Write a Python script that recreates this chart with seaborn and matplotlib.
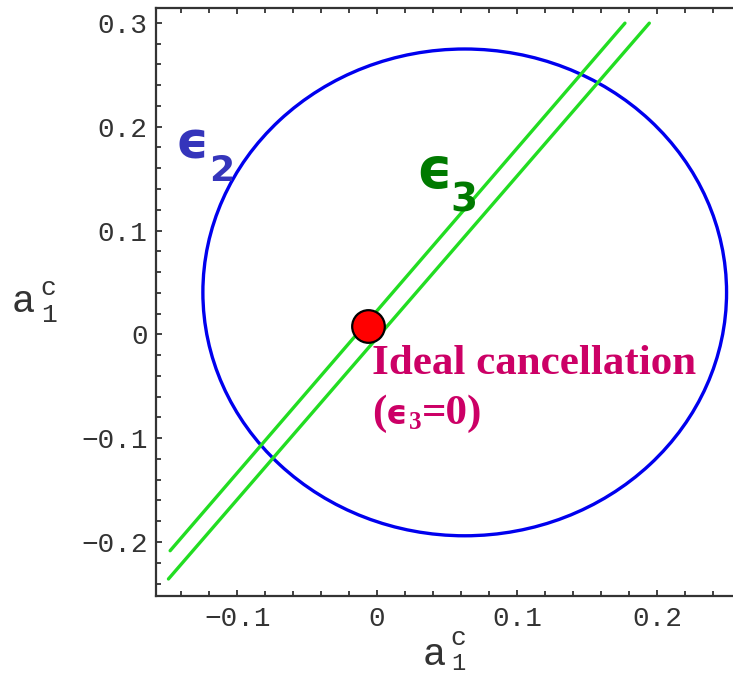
import numpy as np
import pandas as pd
import seaborn as sns
import matplotlib
matplotlib.use("Agg")
import matplotlib.pyplot as plt
from matplotlib.patches import Ellipse
from matplotlib.ticker import MultipleLocator, FuncFormatter

# --- data -------------------------------------------------------------
# epsilon_2 contour (ellipse in the a1c plane): centre and half-axes
eps2_center = (0.0626, 0.0404)
eps2_half_axes = (0.1871, 0.2344)

# epsilon_3 band: two parallel straight edges, given by their end points
eps3_edge = ["upper", "upper", "lower", "lower"]
eps3_x = [-0.1479, 0.1771, -0.1491, 0.1945]
eps3_y = [-0.2084, 0.2997, -0.2356, 0.2997]

# ideal cancellation point (epsilon_3 = 0)
ideal_x = [-0.0062]
ideal_y = [0.008]

x_limits = (-0.158, 0.2543)
y_limits = (-0.252, 0.314)

# --- style ------------------------------------------------------------
sns.set_theme(style="white")
plt.rcParams["font.family"] = ["Liberation Mono", "DejaVu Sans"]
plt.rcParams["axes.unicode_minus"] = True

W, H, DPI = 733, 674, 100
fig = plt.figure(figsize=(W / DPI, H / DPI), dpi=DPI)
ax = fig.add_axes([156 / W, 1 - 596 / H, 1 - 156 / W, (596 - 8.3) / H])

frame_col = "#333333"
blue = "#0000ee"
green = "#22dd22"

# ellipse for epsilon_2
ax.add_patch(Ellipse(eps2_center, 2 * eps2_half_axes[0], 2 * eps2_half_axes[1],
                     fill=False, edgecolor=blue, linewidth=2.4, zorder=2))

# band edges for epsilon_3
band = pd.DataFrame({"edge": eps3_edge, "x": eps3_x, "y": eps3_y})
sns.lineplot(data=band, x="x", y="y", hue="edge", palette=[green, green],
             sort=False, estimator=None, linewidth=2.4, legend=False, ax=ax,
             zorder=3)

# ideal point
pt = pd.DataFrame({"x": ideal_x, "y": ideal_y})
sns.scatterplot(data=pt, x="x", y="y", s=23.5 ** 2, color="#ff0000",
                edgecolor="black", linewidth=1.6, ax=ax, zorder=5, legend=False)

ax.set_xlim(*x_limits)
ax.set_ylim(*y_limits)
ax.set_xlabel("")
ax.set_ylabel("")

# frame and ticks
for side in ["left", "bottom", "top"]:
    ax.spines[side].set_visible(True)
    ax.spines[side].set_color(frame_col)
    ax.spines[side].set_linewidth(1.6)
ax.spines["right"].set_visible(False)

ax.xaxis.set_major_locator(MultipleLocator(0.1))
ax.xaxis.set_minor_locator(MultipleLocator(0.02))
ax.yaxis.set_major_locator(MultipleLocator(0.1))
ax.yaxis.set_minor_locator(MultipleLocator(0.02))


def fmt(v, _):
    v = round(v, 3)
    if abs(v) < 1e-9:
        return "0"
    s = f"{abs(v):.1f}"
    return ("\u2212" + s) if v < 0 else s


ax.xaxis.set_major_formatter(FuncFormatter(fmt))
ax.yaxis.set_major_formatter(FuncFormatter(fmt))
ax.tick_params(which="both", direction="in", top=True, bottom=True, left=True,
               right=False, color=frame_col, width=1.3)
ax.tick_params(which="major", length=4.5, labelsize=20, labelcolor="#333333")
ax.tick_params(which="minor", length=3.5)
ax.tick_params(axis="y", which="major", pad=6)
ax.tick_params(axis="x", which="major", pad=7)

# axis titles a_1^c
mono = "Liberation Mono"
lab_col = "#333333"
fig.text(12 / W, 1 - 312 / H, "a", fontsize=28, family=mono, color=lab_col,
         ha="left", va="baseline")
fig.text(40 / W, 1 - 295 / H, "c", fontsize=19, family=mono, color=lab_col,
         ha="left", va="baseline")
fig.text(41 / W, 1 - 322 / H, "1", fontsize=19, family=mono, color=lab_col,
         ha="left", va="baseline")
fig.text(423 / W, 1 - 665 / H, "a", fontsize=28, family=mono, color=lab_col,
         ha="left", va="baseline")
fig.text(450 / W, 1 - 645 / H, "c", fontsize=19, family=mono, color=lab_col,
         ha="left", va="baseline")
fig.text(451 / W, 1 - 670 / H, "1", fontsize=17, family=mono, color=lab_col,
         ha="left", va="baseline")

# curve labels
sans = "DejaVu Sans"
ax.text(-0.1440, 0.1692, "\u03f5", fontsize=37, fontweight="bold", family=sans,
        color="#3535bb", ha="left", va="baseline")
ax.text(-0.1200, 0.1474, "2", fontsize=26, fontweight="bold", family=sans,
        color="#3535bb", ha="left", va="baseline")
ax.text(0.0280, 0.1413, "\u03f5", fontsize=40, fontweight="bold", family=sans,
        color="#007a00", ha="left", va="baseline")
ax.text(0.0525, 0.1186, "3", fontsize=28, fontweight="bold", family=sans,
        color="#007a00", ha="left", va="baseline")

# annotation of the ideal point
serif = "Liberation Serif"
crim = "#cc0066"
ax.text(-0.0038, -0.0385, "Ideal cancellation", fontsize=31, fontweight="bold",
        family=serif, color=crim, ha="left", va="baseline")
ax.text(-0.0038, -0.0865, "(", fontsize=31, fontweight="bold", family=serif,
        color=crim, ha="left", va="baseline")
ax.text(0.0060, -0.0865, "\u03f5", fontsize=24, fontweight="bold", family=sans,
        color=crim, ha="left", va="baseline")
ax.text(0.0228, -0.0913, "3", fontsize=18, fontweight="bold", family=serif,
        color=crim, ha="left", va="baseline")
ax.text(0.0318, -0.0865, "=0)", fontsize=31, fontweight="bold", family=serif,
        color=crim, ha="left", va="baseline")

fig.savefig("out.png", dpi=DPI)
